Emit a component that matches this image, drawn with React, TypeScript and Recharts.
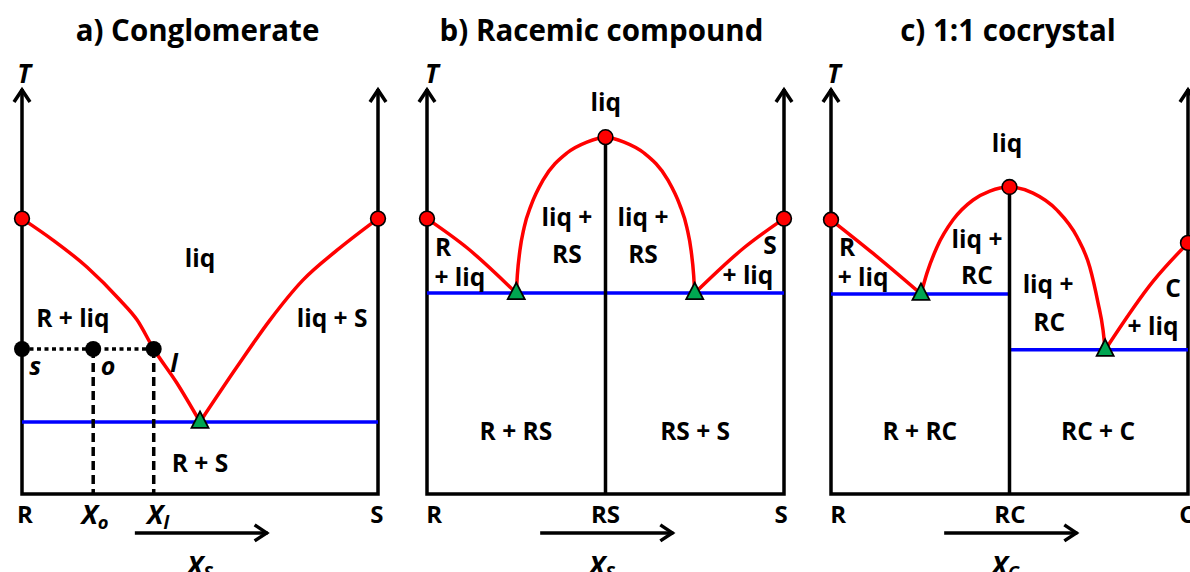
import React from 'react';
import { ComposedChart, Line, Scatter, XAxis, YAxis } from 'recharts';

type Pt = { x: number; T: number };
type Tag = { x: number; T: number; text: string; sub?: string; kind: 'region' | 'tick' | 'axis' | 'var' | 'point' };

// shared frame: T axis at both ends plus the composition baseline
const axisFrame: Pt[] = [{ x: 0, T: 100 }, { x: 0, T: 0 }, { x: 1, T: 0 }, { x: 1, T: 100 }];
const axisTips: Pt[] = [{ x: 0, T: 100 }, { x: 1, T: 100 }];
const compArrow: Pt[] = [{ x: 0.317, T: -9.6 }, { x: 0.69, T: -9.6 }];
const compArrowTip: Pt[] = [{ x: 0.69, T: -9.6 }];

// a) conglomerate
const congMelting: Pt[] = [{ x: 0, T: 68 }, { x: 1, T: 68 }];
const congEutectic: Pt[] = [{ x: 0.5, T: 17.8 }];
const congLiquidusR: Pt[] = [
  { x: 0, T: 68 }, { x: 0.087, T: 62.7 }, { x: 0.183, T: 56 }, { x: 0.275, T: 47.9 }, { x: 0.323, T: 43 },
  { x: 0.37, T: 35.8 }, { x: 0.435, T: 27.4 }, { x: 0.5, T: 17.8 },
];
const congLiquidusS: Pt[] = [
  { x: 0.5, T: 17.8 }, { x: 0.604, T: 31.4 }, { x: 0.697, T: 43 }, { x: 0.789, T: 52.8 }, { x: 0.885, T: 60.2 },
  { x: 1, T: 68 },
];
const congSolidus: Pt[] = [{ x: 0, T: 17.8 }, { x: 1, T: 17.8 }];
const leverPoints: Pt[] = [{ x: 0, T: 35.8 }, { x: 0.2, T: 35.8 }, { x: 0.37, T: 35.8 }];
const leverTie: Pt[] = [{ x: 0, T: 35.8 }, { x: 0.37, T: 35.8 }];
const leverDropO: Pt[] = [{ x: 0.2, T: 35.8 }, { x: 0.2, T: 0 }];
const leverDropL: Pt[] = [{ x: 0.37, T: 35.8 }, { x: 0.37, T: 0 }];
const congTags: Tag[] = [
  { x: 0.006, T: 104, text: 'T', kind: 'axis' },
  { x: 0.5, T: 58.5, text: 'liq', kind: 'region' },
  { x: 0.143, T: 43.7, text: 'R + liq', kind: 'region' },
  { x: 0.871, T: 43.7, text: 'liq + S', kind: 'region' },
  { x: 0.5, T: 7.9, text: 'R + S', kind: 'region' },
  { x: 0.037, T: 31.9, text: 's', kind: 'point' },
  { x: 0.242, T: 31.9, text: 'o', kind: 'point' },
  { x: 0.427, T: 32.6, text: 'l', kind: 'point' },
  { x: 0.008, T: -4.9, text: 'R', kind: 'tick' },
  { x: 0.997, T: -4.9, text: 'S', kind: 'tick' },
  { x: 0.205, T: -4.9, text: 'X', sub: 'o', kind: 'var' },
  { x: 0.382, T: -4.9, text: 'X', sub: 'l', kind: 'var' },
  { x: 0.5, T: -17.3, text: 'X', sub: 'S', kind: 'var' },
];

// b) racemic compound
const racMelting: Pt[] = [{ x: 0, T: 68 }, { x: 0.5, T: 88.1 }, { x: 1, T: 68 }];
const racEutectics: Pt[] = [{ x: 0.25, T: 49.6 }, { x: 0.75, T: 49.6 }];
const racLiquidusR: Pt[] = [{ x: 0, T: 68 }, { x: 0.112, T: 60.8 }, { x: 0.25, T: 49.6 }];
const racLiquidusRS: Pt[] = [
  { x: 0.25, T: 49.6 }, { x: 0.253, T: 54 }, { x: 0.26, T: 60 }, { x: 0.272, T: 65.8 }, { x: 0.292, T: 71.4 },
  { x: 0.325, T: 77.5 }, { x: 0.392, T: 84.2 }, { x: 0.448, T: 86.9 },
  { x: 0.5, T: 88.1 },
  { x: 0.552, T: 86.9 }, { x: 0.608, T: 84.2 }, { x: 0.675, T: 77.5 }, { x: 0.708, T: 71.4 }, { x: 0.728, T: 65.8 },
  { x: 0.74, T: 60 }, { x: 0.747, T: 54 }, { x: 0.75, T: 49.6 },
];
const racLiquidusS: Pt[] = [{ x: 0.75, T: 49.6 }, { x: 0.888, T: 60.8 }, { x: 1, T: 68 }];
const racSolidus: Pt[] = [{ x: 0, T: 49.6 }, { x: 1, T: 49.6 }];
const racCompound: Pt[] = [{ x: 0.5, T: 0 }, { x: 0.5, T: 88.1 }];
const racTags: Tag[] = [
  { x: 0.014, T: 104, text: 'T', kind: 'axis' },
  { x: 0.501, T: 96.8, text: 'liq', kind: 'region' },
  { x: 0.392, T: 68.4, text: 'liq +', kind: 'region' },
  { x: 0.392, T: 59.5, text: 'RS', kind: 'region' },
  { x: 0.605, T: 68.4, text: 'liq +', kind: 'region' },
  { x: 0.605, T: 59.5, text: 'RS', kind: 'region' },
  { x: 0.045, T: 61.2, text: 'R', kind: 'region' },
  { x: 0.092, T: 53.8, text: '+ liq', kind: 'region' },
  { x: 0.961, T: 61.7, text: 'S', kind: 'region' },
  { x: 0.899, T: 54.3, text: '+ liq', kind: 'region' },
  { x: 0.249, T: 15.8, text: 'R + RS', kind: 'region' },
  { x: 0.751, T: 15.8, text: 'RS + S', kind: 'region' },
  { x: 0.02, T: -4.9, text: 'R', kind: 'tick' },
  { x: 0.5, T: -4.9, text: 'RS', kind: 'tick' },
  { x: 0.992, T: -4.9, text: 'S', kind: 'tick' },
  { x: 0.49, T: -17.3, text: 'X', sub: 'S', kind: 'var' },
];

// c) 1:1 cocrystal
const cocMelting: Pt[] = [{ x: 0, T: 67.7 }, { x: 0.5, T: 75.8 }, { x: 1, T: 62 }];
const cocEutectics: Pt[] = [{ x: 0.252, T: 49.4 }, { x: 0.768, T: 35.6 }];
const cocLiquidusR: Pt[] = [{ x: 0, T: 67.7 }, { x: 0.118, T: 59.4 }, { x: 0.252, T: 49.4 }];
const cocLiquidusRC: Pt[] = [
  { x: 0.252, T: 49.4 }, { x: 0.269, T: 54.6 }, { x: 0.297, T: 61 }, { x: 0.342, T: 67.7 }, { x: 0.398, T: 72.6 },
  { x: 0.445, T: 74.8 },
  { x: 0.5, T: 75.8 },
  { x: 0.566, T: 74.3 }, { x: 0.633, T: 70.1 }, { x: 0.689, T: 63.5 }, { x: 0.725, T: 56 }, { x: 0.748, T: 47.2 },
  { x: 0.762, T: 40.5 }, { x: 0.768, T: 35.6 },
];
const cocLiquidusC: Pt[] = [{ x: 0.768, T: 35.6 }, { x: 0.902, T: 52.5 }, { x: 1, T: 62 }];
const cocSolidusLeft: Pt[] = [{ x: 0, T: 49.4 }, { x: 0.5, T: 49.4 }];
const cocSolidusRight: Pt[] = [{ x: 0.5, T: 35.6 }, { x: 1, T: 35.6 }];
const cocCompound: Pt[] = [{ x: 0.5, T: 0 }, { x: 0.5, T: 75.8 }];
const cocTags: Tag[] = [
  { x: 0.008, T: 104, text: 'T', kind: 'axis' },
  { x: 0.493, T: 86.7, text: 'liq', kind: 'region' },
  { x: 0.409, T: 63, text: 'liq +', kind: 'region' },
  { x: 0.409, T: 54.1, text: 'RC', kind: 'region' },
  { x: 0.608, T: 51.9, text: 'liq +', kind: 'region' },
  { x: 0.611, T: 42.7, text: 'RC', kind: 'region' },
  { x: 0.045, T: 61.2, text: 'R', kind: 'region' },
  { x: 0.09, T: 53.8, text: '+ liq', kind: 'region' },
  { x: 0.958, T: 51.1, text: 'C', kind: 'region' },
  { x: 0.902, T: 41.7, text: '+ liq', kind: 'region' },
  { x: 0.249, T: 15.8, text: 'R + RC', kind: 'region' },
  { x: 0.748, T: 15.8, text: 'RC + C', kind: 'region' },
  { x: 0.02, T: -4.9, text: 'R', kind: 'tick' },
  { x: 0.501, T: -4.9, text: 'RC', kind: 'tick' },
  { x: 0.997, T: -4.9, text: 'C', kind: 'tick' },
  { x: 0.488, T: -17.3, text: 'X', sub: 'C', kind: 'var' },
];

const titles = ['a) Conglomerate', 'b) Racemic compound', 'c) 1:1 cocrystal'];

const FONT = "'Open Sans', Lato, sans-serif";
const HEIGHT = 572;
const BASE_Y = 494;
const PX_PER_T = 4.05;
const RED = '#ff0000';
const BLUE = '#0000ff';
const INK = '#000000';

const tagStyle: Record<Tag['kind'], { size: number; italic: boolean }> = {
  region: { size: 24.5, italic: false },
  tick: { size: 24, italic: false },
  axis: { size: 26, italic: true },
  var: { size: 27, italic: true },
  point: { size: 25, italic: true },
};

type Stroke = { data: Pt[]; color: string; curve?: 'linear' | 'monotone'; dash?: string };
type PanelSpec = {
  left: number;
  width: number;
  ox: number;
  sx: number;
  strokes: Stroke[];
  melting: Pt[];
  eutectics: Pt[];
  states?: Pt[];
  tags: Tag[];
};

const meltDot = (p: any) => (
  <circle cx={p.cx} cy={p.cy} r={7.4} fill={RED} stroke={INK} strokeWidth={1.6} />
);
const stateDot = (p: any) => <circle cx={p.cx} cy={p.cy} r={8} fill={INK} />;
const eutecticMark = (p: any) => (
  <path
    d={`M${p.cx},${p.cy - 10.5} L${p.cx + 8.5},${p.cy + 6} L${p.cx - 8.5},${p.cy + 6} Z`}
    fill="#00a651"
    stroke={INK}
    strokeWidth={1.8}
  />
);
const upHead = (p: any) => (
  <path d={`M${p.cx - 8},${p.cy + 13} L${p.cx},${p.cy + 1} L${p.cx + 8},${p.cy + 13}`} fill="none" stroke={INK} strokeWidth={3.5} />
);
const rightHead = (p: any) => (
  <path d={`M${p.cx - 13},${p.cy - 8} L${p.cx - 1},${p.cy} L${p.cx - 13},${p.cy + 8}`} fill="none" stroke={INK} strokeWidth={3.5} />
);
const tagText = (p: any) => {
  const t = p.payload as Tag;
  const st = tagStyle[t.kind];
  return (
    <text
      x={p.cx}
      y={p.cy}
      textAnchor="middle"
      dominantBaseline="central"
      fontFamily={FONT}
      fontWeight={700}
      fontStyle={st.italic ? 'italic' : 'normal'}
      fontSize={st.size}
      fill={INK}
    >
      {t.text}
      {t.sub && (
        <tspan dy={7} fontSize={st.size * 0.68}>
          {t.sub}
        </tspan>
      )}
    </text>
  );
};

const panels: PanelSpec[] = [
  {
    left: 0, width: 400, ox: 22, sx: 356,
    strokes: [
      { data: congSolidus, color: BLUE },
      { data: leverTie, color: INK, dash: '4 3.5' },
      { data: leverDropO, color: INK, dash: '9 5' },
      { data: leverDropL, color: INK, dash: '9 5' },
      { data: congLiquidusR, color: RED, curve: 'monotone' },
      { data: congLiquidusS, color: RED, curve: 'monotone' },
    ],
    melting: congMelting, eutectics: congEutectic, states: leverPoints, tags: congTags,
  },
  {
    left: 400, width: 400, ox: 27, sx: 357,
    strokes: [
      { data: racSolidus, color: BLUE },
      { data: racCompound, color: INK },
      { data: racLiquidusR, color: RED, curve: 'monotone' },
      { data: racLiquidusRS, color: RED, curve: 'monotone' },
      { data: racLiquidusS, color: RED, curve: 'monotone' },
    ],
    melting: racMelting, eutectics: racEutectics, tags: racTags,
  },
  {
    left: 800, width: 390, ox: 31, sx: 357,
    strokes: [
      { data: cocSolidusLeft, color: BLUE },
      { data: cocSolidusRight, color: BLUE },
      { data: cocCompound, color: INK },
      { data: cocLiquidusR, color: RED, curve: 'monotone' },
      { data: cocLiquidusRC, color: RED, curve: 'monotone' },
      { data: cocLiquidusC, color: RED, curve: 'monotone' },
    ],
    melting: cocMelting, eutectics: cocEutectics, tags: cocTags,
  },
];

function PhasePanel({ spec }: { spec: PanelSpec }) {
  // domains chosen so the whole svg is the plot area: x=0..1 spans the two T axes
  const xDomain = [-spec.ox / spec.sx, (spec.width - spec.ox) / spec.sx];
  const yDomain = [-(HEIGHT - BASE_Y) / PX_PER_T, BASE_Y / PX_PER_T];
  const allStrokes: Stroke[] = [
    { data: axisFrame, color: INK },
    { data: compArrow, color: INK },
    ...spec.strokes,
  ];
  return (
    <div style={{ position: 'absolute', left: spec.left, top: 0 }}>
      <ComposedChart width={spec.width} height={HEIGHT} margin={{ top: 0, right: 0, bottom: 0, left: 0 }}>
        <XAxis type="number" dataKey="x" domain={xDomain} hide />
        <YAxis type="number" dataKey="T" domain={yDomain} hide />
        {allStrokes.map((s, i) => (
          <Line
            key={i}
            data={s.data}
            dataKey="T"
            type={s.curve ?? 'linear'}
            stroke={s.color}
            strokeWidth={3.5}
            strokeDasharray={s.dash}
            strokeLinejoin="miter"
            dot={false}
            activeDot={false}
            isAnimationActive={false}
          />
        ))}
        <Scatter data={axisTips} dataKey="T" shape={upHead} isAnimationActive={false} />
        <Scatter data={compArrowTip} dataKey="T" shape={rightHead} isAnimationActive={false} />
        <Scatter data={spec.melting} dataKey="T" shape={meltDot} isAnimationActive={false} />
        <Scatter data={spec.eutectics} dataKey="T" shape={eutecticMark} isAnimationActive={false} />
        {spec.states && <Scatter data={spec.states} dataKey="T" shape={stateDot} isAnimationActive={false} />}
        <Scatter data={spec.tags} dataKey="T" shape={tagText} isAnimationActive={false} />
      </ComposedChart>
    </div>
  );
}

const titleCenters = [197.5, 601.5, 1008];

export default function App() {
  return (
    <div style={{ position: 'absolute', left: 0, top: 0, width: 1190, height: HEIGHT, background: '#fff', overflow: 'hidden' }}>
      {panels.map((p, i) => (
        <PhasePanel key={i} spec={p} />
      ))}
      <svg width={1190} height={60} style={{ position: 'absolute', left: 0, top: 0 }}>
        {titles.map((t, i) => (
          <text key={t} x={titleCenters[i]} y={41} textAnchor="middle" fontFamily={FONT} fontWeight={700} fontSize={29.5} fill={INK}>
            {t}
          </text>
        ))}
      </svg>
    </div>
  );
}
